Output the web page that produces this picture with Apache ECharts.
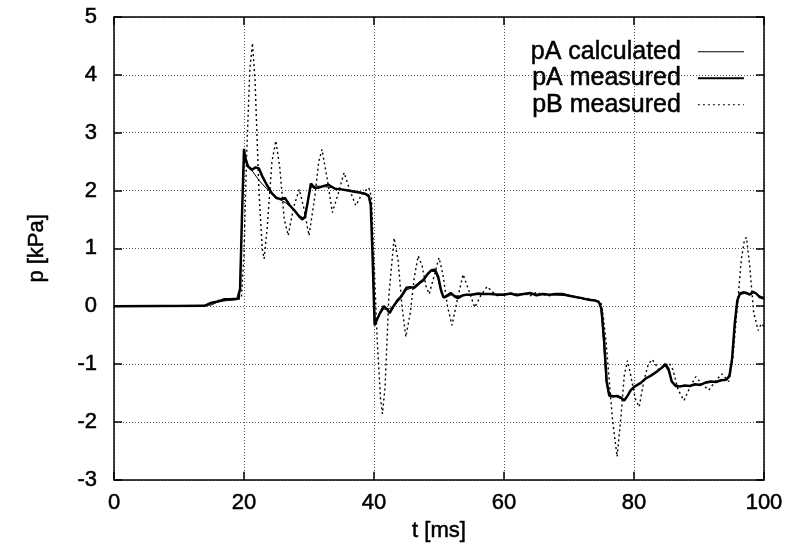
<!DOCTYPE html>
<html>
<head>
<meta charset="utf-8">
<script src="https://cdn.jsdelivr.net/npm/echarts@6/dist/echarts.min.js"></script>
<style>html,body{margin:0;padding:0;background:#fff}#c{width:790px;height:547px}</style>
</head>
<body>
<div id="c"></div>
<script>
const xTicks = [0, 20, 40, 60, 80, 100];
const yTicks = [-3, -2, -1, 0, 1, 2, 3, 4, 5];

const pACalcT = [0,15,16,19.3,19.6,19.9,20.2,20.6,21.5,22.5,23.5,24.5,25.5,26.5,27.5,28.5,29.2,29.7,30.2,31,32,33,35,37,38.5,39.3,39.6,39.9,40.2,40.8,41.5,42.3,43,44,45,46,47,48,48.8,49.4,49.9,50.4,51,52,53,54,56,60,65,70,74,74.8,75.2,75.7,76.1,77,78,78.6,79.3,80,81,82,83,84,84.7,85.3,85.9,87,89,91,93,94.5,95,95.4,95.8,96.3,97,98,98.5,99.3,100];
const pACalcP = [0,0.02,0.08,0.12,1.2,2.4,2.6,2.45,2.3,2.15,2.03,1.93,1.85,1.78,1.68,1.57,1.52,1.75,2.05,2.08,2.07,2.06,2.02,1.99,1.96,1.92,1.6,0.3,-0.28,-0.15,-0.05,-0.05,0.0,0.12,0.28,0.33,0.42,0.52,0.6,0.6,0.45,0.22,0.15,0.2,0.17,0.2,0.2,0.21,0.21,0.18,0.1,0.05,-0.4,-1.3,-1.52,-1.55,-1.6,-1.62,-1.5,-1.4,-1.32,-1.24,-1.16,-1.08,-1.02,-1.12,-1.33,-1.38,-1.37,-1.33,-1.3,-1.25,-1.0,-0.4,0.05,0.2,0.22,0.2,0.24,0.18,0.15];

const pAMeasT = [0,14,15,16,17,18,19,19.4,19.7,20.0,20.2,20.6,21.2,21.8,22.3,22.8,23.5,24.3,25.0,25.7,26.3,27.0,27.8,28.5,29.0,29.4,29.8,30.3,30.8,31.5,32.3,33.0,34.0,35.0,36.0,37.0,38.0,38.7,39.2,39.5,39.8,40.1,40.5,41.0,41.5,42.0,42.4,43.0,43.6,44.2,45.0,45.6,46.2,47.0,47.6,48.2,48.8,49.4,49.9,50.3,50.7,51.2,51.8,52.4,52.9,53.5,54.2,55,56,57,58,59,60,61,62,63,64,65,66,67,68,69,70,71,72,73,74,74.6,75.0,75.4,75.8,76.2,76.8,77.4,78.0,78.5,79.0,79.5,80.2,81.0,81.8,82.6,83.4,84.2,84.8,85.3,85.8,86.4,87.0,87.8,88.6,89.4,90.2,91.0,91.8,92.6,93.4,94.2,94.7,95.1,95.5,95.9,96.3,96.8,97.3,97.8,98.3,98.8,99.3,100];
const pAMeasP = [0,0.01,0.06,0.08,0.12,0.12,0.13,0.3,1.6,2.72,2.55,2.42,2.36,2.4,2.38,2.25,2.1,1.95,1.87,1.85,1.87,1.75,1.65,1.55,1.5,1.55,1.8,2.12,2.05,2.05,2.08,2.1,2.03,2.02,2.0,1.98,1.96,1.94,1.9,1.75,0.8,-0.33,-0.22,-0.1,0.0,-0.05,-0.12,0.0,0.1,0.17,0.32,0.33,0.32,0.4,0.45,0.55,0.62,0.63,0.5,0.28,0.15,0.18,0.23,0.17,0.14,0.18,0.2,0.2,0.22,0.21,0.21,0.2,0.2,0.22,0.19,0.21,0.23,0.19,0.21,0.2,0.21,0.21,0.18,0.16,0.14,0.11,0.1,0.07,-0.05,-0.6,-1.3,-1.55,-1.56,-1.55,-1.58,-1.63,-1.55,-1.45,-1.38,-1.33,-1.25,-1.2,-1.14,-1.07,-1.0,-1.08,-1.3,-1.38,-1.39,-1.37,-1.38,-1.35,-1.36,-1.32,-1.3,-1.31,-1.28,-1.27,-1.2,-0.9,-0.3,0.1,0.22,0.24,0.23,0.2,0.25,0.22,0.16,0.13];

const pBMeasT = [0,14,15,16,19,19.6,20.0,20.4,20.9,21.3,21.7,22.3,22.8,23.1,23.6,24.3,24.9,25.5,26.2,26.8,27.6,28.5,29.2,30.0,30.9,31.5,32.0,32.8,33.6,34.5,35.4,36.3,37.2,38.2,39.2,39.6,40.0,40.5,41.0,41.3,41.7,42.3,43.1,43.7,44.3,44.9,45.6,46.2,46.8,47.4,48.0,48.5,49.2,50.0,50.6,51.3,52.0,52.8,53.7,54.5,55.5,56.5,57.4,58.2,59,60,61,62,63,64,65,66,67,68,69,70,71,72,73,74,74.9,75.3,75.7,76.2,76.7,77.4,78.0,78.5,79.0,79.5,80.2,80.8,81.5,82.2,82.8,83.3,83.8,84.6,85.4,86.0,86.8,87.7,88.6,89.5,90.5,91.5,92.5,93.5,94.6,95.2,95.9,96.5,97.0,97.3,97.8,98.4,99.1,99.6,100];
const pBMeasP = [0,0.0,0.05,0.1,0.12,0.15,0.9,2.6,4.1,4.55,3.9,2.0,1.0,0.82,1.4,2.5,2.86,2.4,1.5,1.22,1.7,2.02,1.7,1.22,1.9,2.5,2.71,2.2,1.62,1.95,2.31,2.0,1.74,1.95,2.05,1.9,0.8,-0.6,-1.6,-1.86,-1.4,0.2,1.18,0.8,0.0,-0.53,-0.1,0.5,0.87,0.7,0.35,0.21,0.5,0.84,0.55,0.0,-0.33,0.1,0.55,0.3,-0.02,0.2,0.34,0.25,0.18,0.2,0.23,0.2,0.22,0.18,0.24,0.2,0.18,0.22,0.2,0.19,0.16,0.12,0.13,0.1,0.08,-0.2,-0.6,-1.3,-1.97,-2.6,-1.9,-1.2,-0.94,-1.2,-1.6,-1.74,-1.3,-1.0,-0.92,-1.0,-1.1,-1.05,-0.98,-1.1,-1.45,-1.63,-1.4,-1.22,-1.35,-1.45,-1.3,-1.17,-1.3,-0.9,0.0,0.8,1.15,1.19,0.7,-0.1,-0.42,-0.3,-0.35];

const zip = (t, p) => t.map((v, i) => [v, p[i]]);
const FONT = 'Liberation Sans';

const chart = echarts.init(document.getElementById('c'), null, {renderer: 'canvas'});
const lab = {fontFamily: FONT, fontSize: 22, color: '#000', textBorderColor: '#000', textBorderWidth: 0.5};
const gridLine = {show: true, lineStyle: {color: '#555', type: [1, 2], width: 1}};
chart.setOption({
  animation: false,
  backgroundColor: '#fff',
  grid: {left: 114, right: 26, top: 17, bottom: 66, containLabel: false},
  legend: {
    orient: 'vertical', right: 40, top: 34, align: 'right',
    itemWidth: 46, itemHeight: 14, itemGap: 1,
    itemStyle: {opacity: 0},
    textStyle: {fontFamily: FONT, fontSize: 25, lineHeight: 25, color: '#000', textBorderColor: '#000', textBorderWidth: 0.5, padding: [0, 12, 0, 0]},
    data: [
      {name: 'pA calculated', lineStyle: {width: 1}},
      {name: 'pA measured', lineStyle: {width: 2.2}},
      {name: 'pB measured', lineStyle: {width: 1.2}}
    ]
  },
  xAxis: [{
    type: 'value', min: xTicks[0], max: xTicks[xTicks.length - 1], interval: 20,
    name: 't [ms]', nameLocation: 'middle', nameGap: 40,
    nameTextStyle: lab,
    axisLine: {show: true, onZero: false, lineStyle: {color: '#000', width: 1.5}},
    axisTick: {show: true, inside: true, length: 8, lineStyle: {color: '#000', width: 1.5}},
    axisLabel: Object.assign({margin: 12}, lab),
    splitLine: gridLine
  }, {
    type: 'value', position: 'top', min: xTicks[0], max: xTicks[xTicks.length - 1], interval: 20,
    axisLine: {show: true, onZero: false, lineStyle: {color: '#000', width: 1.5}},
    axisTick: {show: true, inside: true, length: 8, lineStyle: {color: '#000', width: 1.5}},
    axisLabel: {show: false}, splitLine: {show: false}
  }],
  yAxis: [{
    type: 'value', min: yTicks[0], max: yTicks[yTicks.length - 1], interval: 1,
    name: 'p [kPa]', nameLocation: 'middle', nameGap: 66,
    nameTextStyle: lab,
    axisLine: {show: true, onZero: false, lineStyle: {color: '#000', width: 1.5}},
    axisTick: {show: true, inside: true, length: 8, lineStyle: {color: '#000', width: 1.5}},
    axisLabel: Object.assign({margin: 17}, lab),
    splitLine: gridLine
  }, {
    type: 'value', position: 'right', min: yTicks[0], max: yTicks[yTicks.length - 1], interval: 1,
    axisLine: {show: true, onZero: false, lineStyle: {color: '#000', width: 1.5}},
    axisTick: {show: true, inside: true, length: 8, lineStyle: {color: '#000', width: 1.5}},
    axisLabel: {show: false}, splitLine: {show: false}
  }],
  series: [
    {name: 'pA calculated', type: 'line', showSymbol: false, symbol: 'none', data: zip(pACalcT, pACalcP),
     lineStyle: {color: '#000', width: 1}, itemStyle: {color: '#000'}, z: 3},
    {name: 'pA measured', type: 'line', showSymbol: false, symbol: 'none', data: zip(pAMeasT, pAMeasP),
     lineStyle: {color: '#000', width: 2.5}, itemStyle: {color: '#000'}, z: 4},
    {name: 'pB measured', type: 'line', showSymbol: false, symbol: 'none', data: zip(pBMeasT, pBMeasP),
     lineStyle: {color: '#000', width: 1.4, type: [2, 3]}, itemStyle: {color: '#000'}, z: 2}
  ]
});
</script>
</body>
</html>
